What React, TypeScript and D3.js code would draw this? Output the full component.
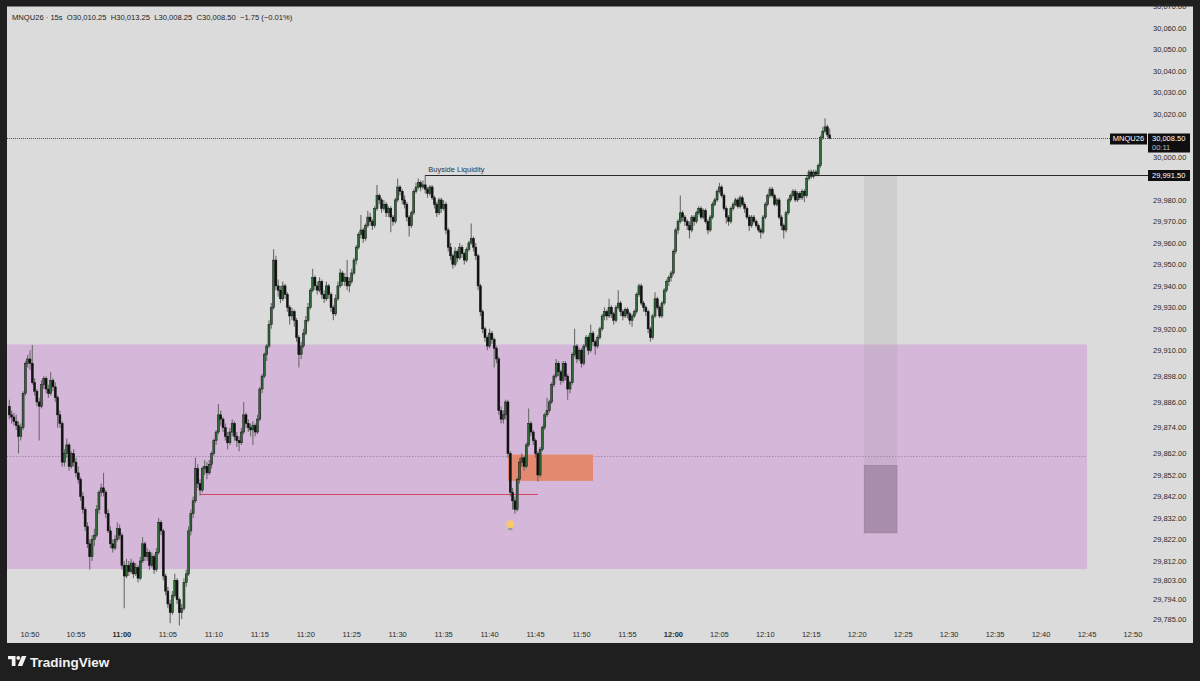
import * as d3 from "d3";

const W = 1200;
const H = 681;

// bar values are points above this level
const BASE = 29800;

// MNQU26 15s bars from 10:47:45, [open, high, low, close]
const bars: [number, number, number, number][] = [
  [84, 87, 78, 80],
  // 10:48
  [80, 82, 76, 79], [79, 81, 75, 77], [77, 80, 73, 75], [75, 77, 62, 70],
  [70, 76, 68, 74], [74, 91, 73, 90], [90, 105, 89, 104], [104, 108, 102, 106],
  // 10:50
  [106, 110, 101, 104], [104, 112.5, 94, 95], [95, 97, 89, 91], [91, 92, 84, 86],
  [86, 88, 68, 84], [84, 96, 83, 94], [94, 98, 92, 97], [97, 98, 90, 92],
  [92, 94, 88, 90], [90, 100, 89, 96], [96, 97, 91, 93], [93, 95, 86, 88],
  [88, 89, 74, 80], [80, 82, 74, 76], [76, 77, 56, 58], [58, 64, 56, 62],
  [62, 69, 60, 66], [66, 67, 54, 56], [56, 63, 55, 62], [62, 64, 56, 58],
  // 10:55
  [58, 60, 51, 53], [53, 56, 48, 50], [50, 51, 40, 42], [42, 44, 34, 36],
  [36, 37, 26, 28], [28, 30, 18, 20], [20, 22, 8, 14], [14, 24, 12, 22],
  [22, 27, 19, 24], [24, 38, 23, 36], [36, 45, 34, 44], [44, 48, 42, 46],
  [46, 53, 42, 44], [44, 45, 32, 34], [34, 36, 25, 26], [26, 28, 18, 20],
  [20, 22, 16, 18], [18, 24, 17, 22], [22, 30, 21, 27], [27, 29, 22, 24],
  // 11:00
  [24, 25, 8, 10], [10, 12, -10, 5], [5, 13, 4, 10], [10, 12, 5, 7],
  [7, 13, 6, 11], [11, 12, 4, 6], [6, 11, 5, 9], [9, 10, 2, 4],
  [4, 14, 3, 12], [12, 23, 11, 20], [20, 21, 12, 14], [14, 18, 12, 16],
  [16, 17, 8, 10], [10, 16, 9, 14], [14, 15, 6, 8], [8, 18, 7, 16],
  [16, 32, 15, 30], [30, 31, 24, 26], [26, 27, 3, 5], [5, 6, -4, -2],
  // 11:05
  [-2, 0, -10, -8], [-8, -6, -17, -12], [-12, -2, -13, -4], [-4, 6, -5, 3],
  [3, 4, -8, -6], [-6, -5, -18, -12], [-12, -8, -15, -10], [-10, 4, -11, 2],
  [2, 8, 0, 6], [6, 28, 5, 26], [26, 36, 24, 34], [34, 42, 32, 40],
  [40, 60, 39, 55], [55, 57, 46, 48], [48, 50, 42.5, 45], [45, 56, 44, 55],
  [55, 59, 52, 56], [56, 58, 50, 53], [53, 59, 52, 57], [57, 63, 55, 62],
  // 11:10
  [62, 69, 61, 68], [68, 73, 66, 72], [72, 85, 71, 80], [80, 82, 75, 78],
  [78, 79, 72, 74], [74, 76, 68, 70], [70, 72, 64, 67], [67, 74, 66, 72],
  [72, 78, 70, 76], [76, 77, 68, 70], [70, 72, 65, 68], [68, 70, 63, 67],
  [67, 74, 66, 72], [72, 86, 71, 80], [80, 81, 74, 76], [76, 78, 72, 74],
  [74, 76, 70, 73], [73, 77, 66, 75], [75, 76, 70, 72], [72, 80, 71, 78],
  // 11:15
  [78, 93, 77, 92], [92, 99, 90, 98], [98, 109, 97, 108], [108, 113, 105, 112],
  [112, 124, 111, 122], [122, 132, 120, 130], [130, 157, 129, 152], [152, 154, 138, 140],
  [140, 143, 135, 138], [138, 140, 132, 134], [134, 142, 133, 140], [140, 141, 134, 136],
  [136, 137, 128, 130], [130, 131, 122, 126], [126, 130, 124, 128], [128, 129, 121, 124],
  [124, 125, 114, 116], [116, 117, 102, 108], [108, 114, 106, 112], [112, 120, 111, 118],
  // 11:20
  [118, 126, 117, 124], [124, 132, 123, 130], [130, 139, 129, 138], [138, 148, 137, 144],
  [144, 145, 138, 140], [140, 142, 136, 138], [138, 144, 137, 142], [142, 143, 134, 136],
  [136, 138, 132, 134], [134, 142, 133, 140], [140, 141, 134, 136], [136, 137, 128, 130],
  [130, 131, 124, 127], [127, 136, 126, 134], [134, 142, 133, 140], [140, 148, 139, 146],
  [146, 147, 140, 142], [142, 146, 140, 144], [144, 152, 138, 140], [140, 144, 137, 142],
  // 11:25
  [142, 148, 141, 146], [146, 153, 145, 152], [152, 159, 150, 158], [158, 165, 157, 164],
  [164, 173, 162, 166], [166, 167, 160, 162], [162, 169, 161, 168], [168, 175, 167, 172],
  [172, 174, 168, 170], [170, 171, 166, 168], [168, 177, 167, 176], [176, 187, 175, 182],
  [182, 183, 178, 180], [180, 181, 174, 176], [176, 180, 175, 178], [178, 179, 172, 174],
  [174, 177, 172, 176], [176, 177, 165, 172], [172, 173, 168, 170], [170, 181, 169, 180],
  // 11:30
  [180, 190, 179, 186], [186, 187, 182, 184], [184, 185, 178, 180], [180, 182, 176, 178],
  [178, 179, 170, 172], [172, 173, 163, 168], [168, 175, 167, 174], [174, 185, 173, 184],
  [184, 188, 183, 186], [186, 190, 185, 188], [188, 189, 184, 186], [186, 189, 185, 187],
  [187, 191.5, 183, 185], [185, 186, 181, 183], [183, 187, 182, 186], [186, 187, 180, 181],
  [181, 182, 176, 178], [178, 179, 172, 174], [174, 181, 173, 180], [180, 181, 174, 176],
  // 11:35
  [176, 180, 175, 178], [178, 179, 164, 166], [166, 167, 156, 158], [158, 160, 152, 154],
  [154, 155, 148, 150], [150, 158, 149, 156], [156, 157, 151, 153], [153, 160, 152, 158],
  [158, 159, 153, 155], [155, 156, 150, 152], [152, 158, 151, 157], [157, 161, 156, 160],
  [160, 169, 159, 162], [162, 163, 156, 158], [158, 160, 152, 154], [154, 155, 138, 140],
  [140, 141, 126, 128], [128, 129, 118, 120], [120, 121, 114, 116], [116, 117, 110, 112],
  // 11:40
  [112, 120, 111, 118], [118, 119, 113, 115], [115, 116, 102, 111], [111, 112, 104, 106],
  [106, 107, 80, 82], [82, 84, 76, 78], [78, 82, 76, 80], [80, 87, 78, 86],
  [86, 87, 60, 62], [62, 63, 42, 44], [44, 46, 36, 40], [40, 42, 34, 36],
  [36, 51, 35, 50], [50, 60, 48, 58], [58, 62, 56, 60], [60, 61, 54, 56],
  [56, 67, 55, 66], [66, 83, 65, 76], [76, 77, 70, 72], [72, 73, 66, 68],
  // 11:45
  [68, 69, 60, 62], [62, 63, 49, 52], [52, 65, 51, 64], [64, 75, 63, 74],
  [74, 81, 73, 80], [80, 88, 79, 82], [82, 87, 81, 86], [86, 95, 85, 94],
  [94, 99, 93, 98], [98, 106, 97, 104], [104, 105, 98, 100], [100, 101, 94, 96],
  [96, 105, 95, 104], [104, 105, 96, 98], [98, 99, 87, 92], [92, 96, 90, 95],
  [95, 109, 94, 108], [108, 120, 107, 112], [112, 113, 104, 106], [106, 111, 105, 110],
  // 11:50
  [110, 111, 102, 104], [104, 113, 103, 112], [112, 117, 111, 116], [116, 117, 108, 110],
  [110, 122, 109, 118], [118, 119, 112, 114], [114, 115, 108, 112], [112, 117, 111, 116],
  [116, 121, 115, 120], [120, 127, 119, 126], [126, 130, 124, 128], [128, 129, 124, 126],
  [126, 134, 125, 130], [130, 131, 125, 127], [127, 128, 122, 124], [124, 131, 123, 130],
  [130, 138, 129, 132], [132, 133, 126, 128], [128, 129, 124, 126], [126, 130, 125, 129],
  // 11:55
  [129, 130, 125, 127], [127, 128, 122, 124], [124, 127, 121, 126], [126, 129, 125, 128],
  [128, 137, 127, 136], [136, 141, 135, 140], [140, 141, 131, 132], [132, 133, 128, 130],
  [130, 131, 126, 128], [128, 129, 118, 120], [120, 121, 114, 116], [116, 127, 115, 126],
  [126, 137, 125, 134], [134, 135, 129, 130], [130, 131, 125, 126], [126, 133, 125, 132],
  [132, 139, 131, 138], [138, 143, 137, 142], [142, 145, 140, 144], [144, 147, 142, 146],
  // 12:00
  [146, 157, 145, 156], [156, 167, 155, 166], [166, 171, 164, 170], [170, 182, 169, 174],
  [174, 175, 170, 172], [172, 173, 168, 170], [170, 171, 166, 168], [168, 170, 162, 166],
  [166, 173, 165, 172], [172, 173, 168, 170], [170, 175, 169, 174], [174, 177, 173, 176],
  [176, 177, 171, 172], [172, 176, 171, 175], [175, 176, 169, 170], [170, 171, 164, 166],
  [166, 173, 165, 172], [172, 179, 171, 178], [178, 181, 177, 180], [180, 185, 179, 184],
  // 12:05
  [184, 188, 183, 186], [186, 187, 181, 182], [182, 183, 175, 176], [176, 177, 169, 172],
  [172, 173, 168, 170], [170, 177, 169, 176], [176, 179, 175, 178], [178, 181, 177, 180],
  [180, 181, 176, 177], [177, 182, 176, 181], [181, 182, 177, 178], [178, 179, 174, 176],
  [176, 177, 171, 172], [172, 173, 165.5, 168], [168, 173, 167, 172], [172, 173, 169, 170],
  [170, 171, 167, 168], [168, 169, 165, 166], [166, 167, 162, 165], [165, 173, 164, 172],
  // 12:10
  [172, 179, 171, 178], [178, 183, 177, 182], [182, 186, 181, 185], [185, 186, 181, 182],
  [182, 183, 177, 178], [178, 181, 177, 180], [180, 181, 171, 172], [172, 173, 166, 168],
  [168, 169, 162, 166], [166, 175, 165, 174], [174, 181, 173, 180], [180, 183, 179, 182],
  [182, 185, 181, 184], [184, 185, 179, 180], [180, 184, 179, 183], [183, 184, 180, 181],
  [181, 185, 180, 184], [184, 185, 179, 182], [182, 191, 181, 190], [190, 194, 189, 193],
  // 12:15
  [193, 194, 190, 191], [191, 194, 190, 193], [193, 194, 191, 192], [192, 197, 191, 196],
  [196, 210, 195, 209], [209, 214, 208, 212], [212, 218, 211, 214], [214, 215, 209, 210.25],
  [210.25, 213.25, 208.25, 208.5],
];

const firstBarTime = "10:47:45";

// labels behind the two price tags (30,010 and 29,990) are left out
const priceTicks = [
  30070, 30060, 30050, 30040, 30030, 30020, 30000, 29980, 29970,
  29960, 29950, 29940, 29930, 29920, 29910, 29898, 29886, 29874, 29862, 29852,
  29842, 29832, 29822, 29812, 29803, 29794, 29785,
];

const timeTicks = [
  "10:50", "10:55", "11:00", "11:05", "11:10", "11:15", "11:20", "11:25",
  "11:30", "11:35", "11:40", "11:45", "11:50", "11:55", "12:00", "12:05",
  "12:10", "12:15", "12:20", "12:25", "12:30", "12:35", "12:40", "12:45", "12:50",
];
const boldTicks = ["11:00", "12:00"];

// purple range and its dotted midline
const zoneTop = 29912.75;
const zoneBottom = 29808.25;
const zoneEnd = "12:45";

// orange box
const boxStart = "11:42:00";
const boxEnd = "11:51:15";
const boxTop = 29861.5;
const boxBottom = 29849.25;

// red level
const redLevel = 29842.75;
const redStart = "11:08:30";
const redEnd = "11:45:15";

// buyside liquidity
const bslLevel = 29991.5;
const bslStart = "11:33:00";

// grey measure block
const toolStart = "12:20:45";
const toolEnd = "12:24:20";
const toolTop = 29991.5;
const toolMid = 29856.5;
const toolBottom = 29825;

const bulbTime = "11:42:15";
const bulbPrice = 29829;

function at(hms: string) {
  const [h, m, s = 0] = hms.split(":").map(Number);
  return new Date(2026, 0, 5, h, m, s);
}

const FONT = "'Liberation Sans', Arial, Helvetica, sans-serif";

// snap a horizontal line onto a pixel row
const crisp = (v: number) => Math.round(v - 0.5) + 0.5;

export default function App() {
  const paneL = 7;
  const paneR = 1193;
  const paneT = 6.5;
  const paneB = 643;

  const x = d3.scaleTime().domain([at("10:50"), at("12:50")]).range([30, 1133]);
  const y = d3.scaleLinear().domain([29785, 30070]).range([619, 6.5]);

  const t0 = at(firstBarTime).getTime();
  const bx = (i: number) => x(new Date(t0 + i * 15000));
  const py = (v: number) => y(BASE + v);

  const fmt = d3.format(",.2f");
  const last = bars[bars.length - 1];
  const prevClose = bars[bars.length - 2][3];
  const chg = last[3] - prevClose;
  const pct = (chg / (BASE + prevClose)) * 100;
  const sign = chg < 0 ? "\u2212" : "+";
  const header = `MNQU26 \u00b7 15s  O${fmt(BASE + last[0])}  H${fmt(BASE + last[1])}  L${fmt(
    BASE + last[2]
  )}  C${fmt(BASE + last[3])}  ${sign}${Math.abs(chg).toFixed(2)} (${sign}${Math.abs(pct).toFixed(2)}%)`;

  const lastY = crisp(py(last[3]));
  const bslY = crisp(y(bslLevel));
  const redY = crisp(y(redLevel));
  const midY = crisp(y((zoneTop + zoneBottom) / 2));
  const bodyW = 2;

  return (
    <svg
      width={W}
      height={H}
      style={{ position: "absolute", left: 0, top: 0, display: "block" }}
      fontFamily={FONT}
    >
      <defs>
        <clipPath id="pane">
          <rect x={paneL} y={paneT} width={paneR - paneL} height={paneB - paneT} />
        </clipPath>
      </defs>
      <rect width={W} height={H} fill="#1f1f1f" />
      <rect x={paneL} y={paneT} width={paneR - paneL} height={paneB - paneT} fill="#dbdbdb" />

      <g clipPath="url(#pane)">
        {/* purple range */}
        <rect
          x={paneL}
          y={y(zoneTop)}
          width={x(at(zoneEnd)) - paneL}
          height={y(zoneBottom) - y(zoneTop)}
          fill="#d5b7d9"
        />
        <line
          x1={paneL}
          x2={x(at(zoneEnd))}
          y1={midY}
          y2={midY}
          stroke="#a98aa9"
          strokeWidth={1}
          strokeDasharray="1.5 1.5"
        />

        {/* orange box */}
        <rect
          x={x(at(boxStart))}
          y={y(boxTop)}
          width={x(at(boxEnd)) - x(at(boxStart))}
          height={y(boxBottom) - y(boxTop)}
          fill="#e2896f"
        />

        {/* grey measure block */}
        <rect
          x={x(at(toolStart))}
          y={y(toolTop)}
          width={x(at(toolEnd)) - x(at(toolStart))}
          height={y(toolMid) - y(toolTop)}
          fill="rgba(150,150,150,0.18)"
        />
        <rect
          x={x(at(toolStart))}
          y={y(toolMid)}
          width={x(at(toolEnd)) - x(at(toolStart))}
          height={y(toolBottom) - y(toolMid)}
          fill="rgba(100,80,100,0.4)"
          stroke="rgba(100,80,100,0.35)"
          strokeWidth={0.6}
        />

        {/* red level */}
        <line
          x1={x(at(redStart))}
          x2={x(at(redEnd))}
          y1={redY}
          y2={redY}
          stroke="#d2455e"
          strokeWidth={1}
        />

        {/* candles */}
        {bars.map(([o, h, l, c], i) => {
          const cx = bx(i);
          const up = c >= o;
          const top = py(Math.max(o, c));
          const bh = Math.max(0.8, py(Math.min(o, c)) - top);
          return (
            <g key={i}>
              <line x1={cx} x2={cx} y1={py(h)} y2={py(l)} stroke="#6a6a6a" strokeWidth={1.1} />
              <rect
                x={cx - bodyW / 2}
                y={top}
                width={bodyW}
                height={bh}
                fill={up ? "#2f6b37" : "#111"}
                stroke="#111"
                strokeWidth={0.5}
              />
            </g>
          );
        })}

        {/* buyside liquidity */}
        <line x1={x(at(bslStart))} x2={1148} y1={bslY} y2={bslY} stroke="#2a2a2a" strokeWidth={1} />
        <text x={x(at(bslStart)) + 3} y={bslY - 3.5} fontSize={7.5} fill="#333">
          Buyside Liquidity
        </text>

        {/* last price line */}
        <line
          x1={paneL}
          x2={1110}
          y1={lastY}
          y2={lastY}
          stroke="#555"
          strokeWidth={1}
          strokeDasharray="1 1"
        />

        {/* bulb */}
        <g transform={`translate(${x(at(bulbTime))},${y(bulbPrice)})`}>
          <circle r={4} fill="#f6c96a" />
          <rect x={-2} y={3.5} width={4} height={2.2} fill="#9a9a9a" />
        </g>
      </g>

      {/* header */}
      <text x={12} y={19.5} fontSize={7.6} fill="#222" style={{ whiteSpace: "pre" }}>
        {header}
      </text>

      {/* price axis */}
      {priceTicks.map((p) => (
        <text key={p} x={1153} y={y(p) + 2.7} fontSize={7.5} fill="#2a2a2a">
          {fmt(p)}
        </text>
      ))}

      {/* time axis */}
      {timeTicks.map((t) => (
        <text
          key={t}
          x={x(at(t))}
          y={637}
          fontSize={7.5}
          textAnchor="middle"
          fill="#2a2a2a"
          fontWeight={boldTicks.includes(t) ? 700 : 400}
        >
          {t}
        </text>
      ))}

      {/* symbol + last price tags */}
      <rect x={1110} y={lastY - 5} width={37} height={11} fill="#0f0f0f" />
      <text x={1128.5} y={lastY + 2.7} fontSize={7.5} fill="#fff" textAnchor="middle">
        MNQU26
      </text>
      <rect x={1148} y={lastY - 5} width={42} height={19} fill="#0f0f0f" />
      <text x={1152} y={lastY + 2.7} fontSize={7.5} fill="#fff">
        {fmt(BASE + last[3])}
      </text>
      <text x={1152} y={lastY + 11.2} fontSize={7.5} fill="#bdbdbd">
        00:11
      </text>

      {/* buyside tag */}
      <rect x={1148} y={bslY - 5.5} width={42} height={11} fill="#0f0f0f" />
      <text x={1152} y={bslY + 2.7} fontSize={7.5} fill="#fff">
        {fmt(bslLevel)}
      </text>

      {/* TradingView mark */}
      <g transform="translate(8,656)" fill="#f2f2f2">
        <path d="M0 0 H7.5 V10 H3.8 V3.3 H0 Z" />
        <circle cx={10.3} cy={1.9} r={1.9} />
        <path d="M13.8 0 H18.4 L14.3 10 H9.7 Z" />
      </g>
      <text x={30} y={666.5} fontSize={13.5} fontWeight={600} fill="#f2f2f2">
        TradingView
      </text>
    </svg>
  );
}
